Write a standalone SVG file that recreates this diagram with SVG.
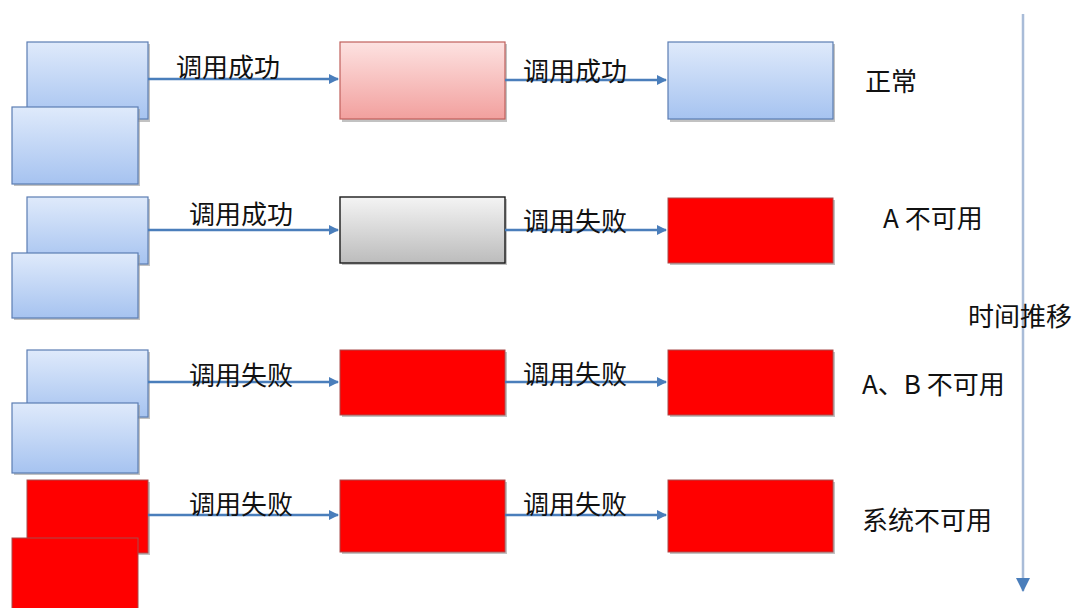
<svg xmlns="http://www.w3.org/2000/svg" width="1076" height="608" viewBox="0 0 1076 608">
<defs>
<linearGradient id="gBlue" x1="0" y1="0" x2="0" y2="1"><stop offset="0" stop-color="#dfeafb"/><stop offset="1" stop-color="#a6c3f0"/></linearGradient>
<linearGradient id="gPink" x1="0" y1="0" x2="0" y2="1"><stop offset="0" stop-color="#fde2e1"/><stop offset="1" stop-color="#f2a09e"/></linearGradient>
<linearGradient id="gGray" x1="0" y1="0" x2="0" y2="1"><stop offset="0" stop-color="#f4f4f4"/><stop offset="1" stop-color="#bcbcbc"/></linearGradient>
<marker id="ah" markerWidth="10" markerHeight="10" refX="9" refY="5" orient="auto" markerUnits="userSpaceOnUse"><path d="M0,0 L10,5 L0,10 z" fill="#4a7ebb"/></marker>
<marker id="ahT" markerWidth="14" markerHeight="14" refX="13" refY="7" orient="auto" markerUnits="userSpaceOnUse"><path d="M0,0 L14,7 L0,14 z" fill="#4a7ebb"/></marker>
</defs>
<style>
.sh{fill:#9a9a9a;opacity:0.6}
.blue{fill:url(#gBlue);stroke:#5b7db3;stroke-width:1.2}
.pink{fill:url(#gPink);stroke:#c0605c;stroke-width:1.2}
.gray{fill:url(#gGray);stroke:#1a1a1a;stroke-width:1.4}
.red{fill:#ff0000;stroke:#a84a4a;stroke-width:1}
.con{stroke:#4a7ebb;stroke-width:2.5;fill:none;marker-end:url(#ah)}
.lbl{font-family:"Noto Sans CJK SC","Liberation Sans",sans-serif;font-size:26px;fill:#111}
.st{font-family:"Noto Sans CJK SC","Liberation Sans",sans-serif;font-size:26px;fill:#111}
</style>
<rect width="1076" height="608" fill="#ffffff"/>

<g id="row1">
<g id="r1-a1"><rect class="sh" x="29" y="44" width="121" height="78"/><rect class="blue" x="27" y="42" width="121" height="77"/></g>
<g id="r1-a2"><rect class="sh" x="14" y="109" width="126" height="77"/><rect class="blue" x="12" y="107" width="126" height="77"/></g>
<g id="r1-b"><rect class="sh" x="342" y="44" width="165" height="78"/><rect class="pink" x="340" y="42" width="165" height="77"/></g>
<g id="r1-c"><rect class="sh" x="670" y="44" width="165" height="78"/><rect class="blue" x="668" y="42" width="165" height="77"/></g>
</g>
<g id="row2">
<g id="r2-a1"><rect class="sh" x="29" y="199" width="121" height="67"/><rect class="blue" x="27" y="197" width="121" height="67"/></g>
<g id="r2-a2"><rect class="sh" x="14" y="255" width="126" height="65"/><rect class="blue" x="12" y="253" width="126" height="65"/></g>
<g id="r2-b"><rect class="sh" x="342" y="199" width="165" height="66"/><rect class="gray" x="340" y="197" width="165" height="66"/></g>
<g id="r2-c"><rect class="sh" x="670" y="200" width="165" height="65"/><rect class="red" x="668" y="198" width="165" height="65"/></g>
</g>
<g id="row3">
<g id="r3-a1"><rect class="sh" x="29" y="352" width="121" height="67"/><rect class="blue" x="27" y="350" width="121" height="67"/></g>
<g id="r3-a2"><rect class="sh" x="14" y="405" width="126" height="70"/><rect class="blue" x="12" y="403" width="126" height="70"/></g>
<g id="r3-b"><rect class="sh" x="342" y="352" width="165" height="65"/><rect class="red" x="340" y="350" width="165" height="65"/></g>
<g id="r3-c"><rect class="sh" x="670" y="352" width="165" height="65"/><rect class="red" x="668" y="350" width="165" height="65"/></g>
</g>
<g id="row4">
<g id="r4-a1"><rect class="sh" x="29" y="482" width="121" height="73"/><rect class="red" x="27" y="480" width="121" height="73"/></g>
<g id="r4-a2"><rect class="red" x="12" y="538" width="126" height="75"/></g>
<g id="r4-b"><rect class="sh" x="342" y="482" width="165" height="72"/><rect class="red" x="340" y="480" width="165" height="72"/></g>
<g id="r4-c"><rect class="sh" x="670" y="482" width="165" height="72"/><rect class="red" x="668" y="480" width="165" height="72"/></g>
</g>

<g id="connectors">
<line class="con" x1="148" y1="79" x2="338" y2="79"/>
<line class="con" x1="505" y1="80" x2="666" y2="80"/>
<line class="con" x1="148" y1="230" x2="338" y2="230"/>
<line class="con" x1="505" y1="230" x2="666" y2="230"/>
<line class="con" x1="148" y1="382" x2="338" y2="382"/>
<line class="con" x1="505" y1="382" x2="666" y2="382"/>
<line class="con" x1="148" y1="515" x2="338" y2="515"/>
<line class="con" x1="505" y1="515" x2="666" y2="515"/>
<line x1="1023" y1="14" x2="1023" y2="591" stroke="#a9bcd8" stroke-width="2.5" marker-end="url(#ahT)"/>
</g>

<g id="labels">
<text class="lbl" x="176" y="77">调用成功</text>
<text class="lbl" x="523" y="81">调用成功</text>
<text class="lbl" x="189" y="224">调用成功</text>
<text class="lbl" x="523" y="231">调用失败</text>
<text class="lbl" x="189" y="385">调用失败</text>
<text class="lbl" x="523" y="384">调用失败</text>
<text class="lbl" x="189" y="514">调用失败</text>
<text class="lbl" x="523" y="514">调用失败</text>
</g>
<g id="states">
<text class="st" x="865" y="91">正常</text>
<text class="st" x="883" y="228">A 不可用</text>
<text class="st" x="968" y="326">时间推移</text>
<text class="st" x="862" y="394">A、B 不可用</text>
<text class="st" x="862" y="530">系统不可用</text>
</g>
</svg>
